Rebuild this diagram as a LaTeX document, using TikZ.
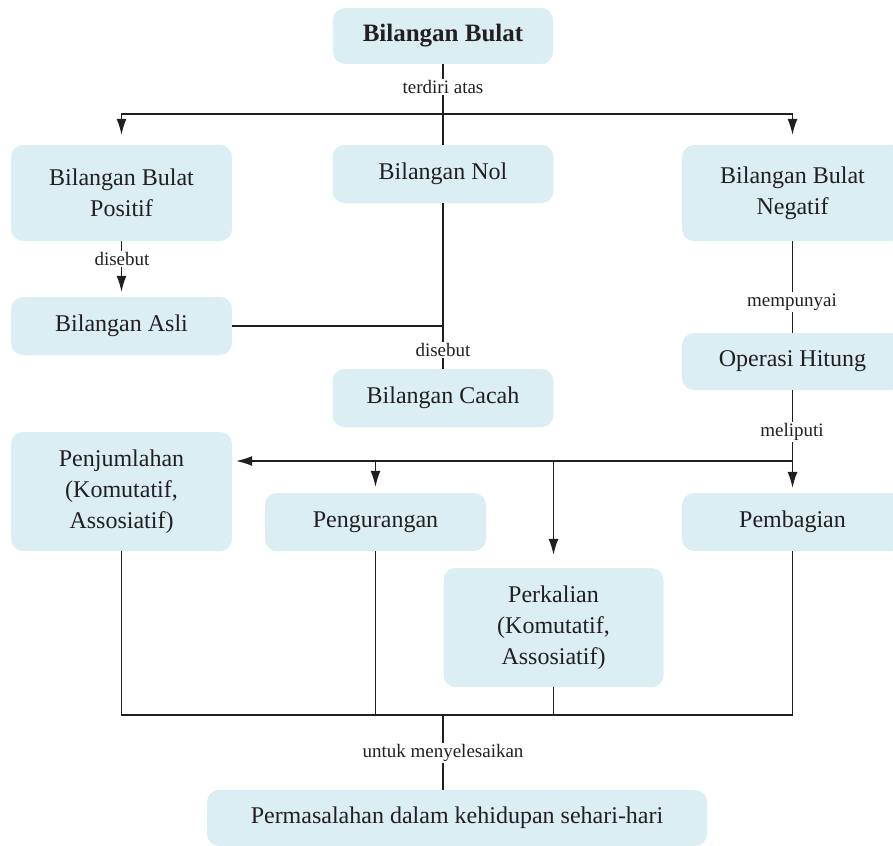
\documentclass[tikz,border=0pt]{standalone}
\usepackage{fontspec}
\setmainfont{Liberation Serif}
\usetikzlibrary{arrows.meta}
\definecolor{boxblue}{HTML}{DAEEF3}
\definecolor{ink}{HTML}{231F20}
\begin{document}
\begin{tikzpicture}[x=1pt,y=-1pt,
  box/.style={fill=boxblue, rounded corners=12pt, align=center, text=ink,
    font=\fontsize{24}{31}\selectfont, inner sep=0pt},
  lab/.style={fill=white, inner sep=1.5pt, text=ink, font=\fontsize{19}{22}\selectfont},
  ln/.style={draw=ink, line width=1.3pt},
  arr/.style={ln, -{Latex[length=16pt,width=10pt]}}]
\useasboundingbox (0,0) rectangle (893,845);
\begin{scope}
\clip (0,0) rectangle (893,845);
% boxes
\node[box, minimum width=220pt, minimum height=56pt, font=\fontsize{25}{31}\selectfont\bfseries] (bb) at (443,36) {Bilangan Bulat};
\node[box, minimum width=221pt, minimum height=96pt] (pos) at (121.5,193) {Bilangan Bulat\\Positif};
\node[box, minimum width=221pt, minimum height=58pt] (nol) at (443,174) {Bilangan Nol};
\node[box, minimum width=221pt, minimum height=96pt] (neg) at (792.5,193) {Bilangan Bulat\\Negatif};
\node[box, minimum width=221pt, minimum height=58pt] (asli) at (121.5,326) {Bilangan Asli};
\node[box, minimum width=221pt, minimum height=58pt] (cacah) at (443,398) {Bilangan Cacah};
\node[box, minimum width=221pt, minimum height=57pt] (op) at (792.5,361.5) {Operasi Hitung};
\node[box, minimum width=221pt, minimum height=119pt] (pj) at (121.5,491.5) {Penjumlahan\\(Komutatif,\\Assosiatif)};
\node[box, minimum width=221pt, minimum height=58pt] (pg) at (375.5,522) {Pengurangan};
\node[box, minimum width=221pt, minimum height=58pt] (pb) at (792.5,522) {Pembagian};
\node[box, minimum width=220pt, minimum height=119pt] (pk) at (553.5,627.5) {Perkalian\\(Komutatif,\\Assosiatif)};
\node[box, minimum width=500pt, minimum height=56pt] (pm) at (457,818) {Permasalahan dalam kehidupan sehari-hari};
\end{scope}
% coordinates
\coordinate (t) at (443,114);
\coordinate (m) at (792.5,461);
\coordinate (b) at (443,715);
% top connectors
\draw[ln] (bb.south) -- (nol.north);
\draw[arr, shorten >=10pt] (t) -| (pos.north);
\draw[arr, shorten >=10pt] (t) -| (neg.north);
\draw[arr, shorten >=5pt] (pos.south) -- (asli.north);
\draw[ln] (nol.south) -- (cacah.north);
\draw[ln] (asli.east) -- (asli.east -| nol.south);
\draw[ln] (neg.south) -- (op.north);
% operations
\draw[arr, shorten >=5pt] (op.south) -- (pb.north);
\draw[arr, shorten >=4pt] (m) -- (m -| pj.east);
\draw[arr, shorten >=6pt] (m -| pg.north) -- (pg.north);
\draw[arr, shorten >=13pt] (m -| pk.north) -- (pk.north);
% bottom
\draw[ln] (pj.south) -- (pj.south |- b) -- (pb.south |- b) -- (pb.south);
\draw[ln] (pg.south) -- (pg.south |- b);
\draw[ln] (pk.south) -- (pk.south |- b);
\draw[ln] (b) -- (b |- pm.north);
% labels
\node[lab] (l1) at (443,87) {terdiri atas};
\node[lab] (l2) at (122,259) {disebut};
\node[lab] (l3) at (443,350) {disebut};
\node[lab] (l4) at (792,302) {mempunyai};
\node[lab] (l5) at (792,432) {meliputi};
\node[lab] (l6) at (443,753) {untuk menyelesaikan};
\end{tikzpicture}
\end{document}
